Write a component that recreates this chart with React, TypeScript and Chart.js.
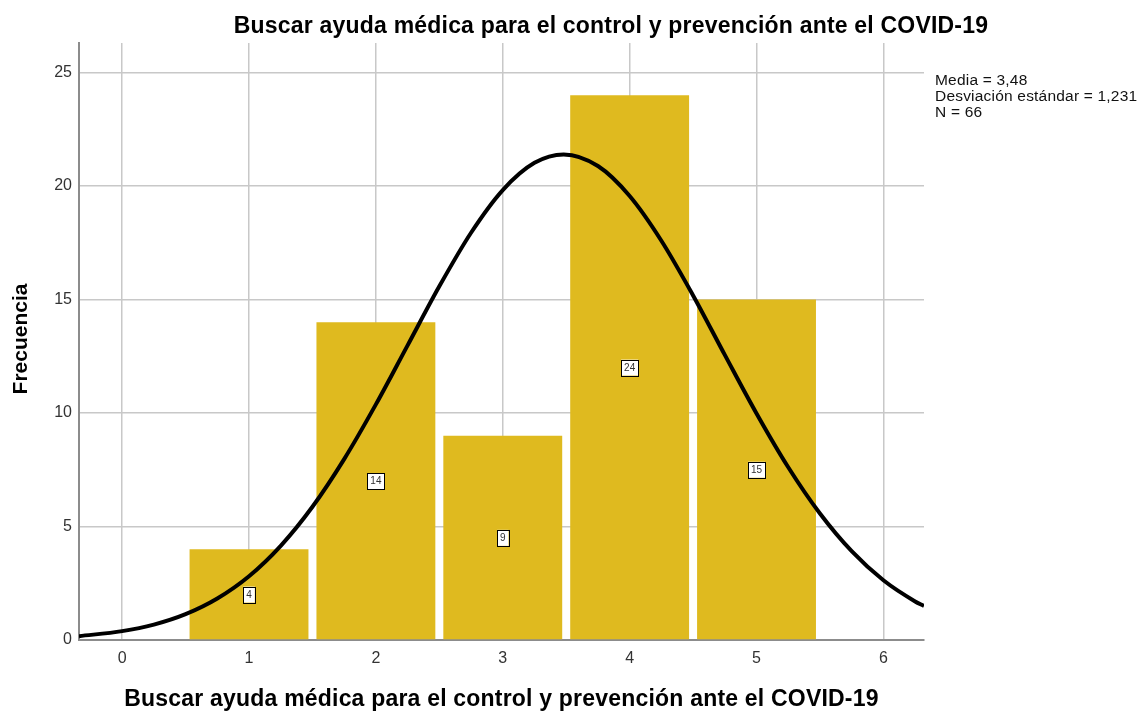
import React, { useEffect, useRef } from "react";
import { Chart, registerables } from "chart.js";

Chart.register(...registerables);

const chartTitle = "Buscar ayuda médica para el control y prevención ante el COVID-19";
const xAxisTitle = "Buscar ayuda médica para el control y prevención ante el COVID-19";
const yAxisTitle = "Frecuencia";
const statsLines = ["Media = 3,48", "Desviación estándar = 1,231", "N = 66"];

const categories = [1, 2, 3, 4, 5];
const frequencies = [4, 14, 9, 24, 15];

const xTicks = [0, 1, 2, 3, 4, 5, 6];
const yTicks = [0, 5, 10, 15, 20, 25];

// normal curve
const curveX = [-0.34, 0, 0.25, 0.5, 0.75, 1, 1.25, 1.5, 1.75, 2, 2.25, 2.5, 2.75, 3, 3.25, 3.48, 3.75, 4, 4.25, 4.5, 4.75, 5, 5.25, 5.5, 5.75, 6, 6.25, 6.32];
const curveY = [0.17, 0.39, 0.68, 1.14, 1.83, 2.81, 4.15, 5.87, 7.97, 10.38, 12.98, 15.58, 17.94, 19.82, 21.02, 21.39, 20.88, 19.56, 17.59, 15.18, 12.56, 9.98, 7.61, 5.57, 3.91, 2.63, 1.7, 1.5];

const FONT = "'Liberation Sans', Arial, sans-serif";

const textPlugin = {
  id: "textPlugin",
  afterDatasetsDraw(chart: any) {
    const ctx = chart.ctx;
    const meta = chart.getDatasetMeta(0);
    const yScale = chart.scales.y;
    ctx.save();
    ctx.font = `10px ${FONT}`;
    ctx.textAlign = "center";
    ctx.textBaseline = "middle";
    meta.data.forEach((el: any, i: number) => {
      const v = frequencies[i];
      const cx = el.x;
      const cy = yScale.getPixelForValue(v / 2);
      const label = String(v);
      const w = ctx.measureText(label).width + 6;
      const h = 16;
      ctx.fillStyle = "#ffffff";
      ctx.fillRect(cx - w / 2, cy - h / 2, w, h);
      ctx.strokeStyle = "#000000";
      ctx.lineWidth = 1;
      ctx.strokeRect(Math.round(cx - w / 2) + 0.5, Math.round(cy - h / 2) + 0.5, Math.round(w), h);
      ctx.fillStyle = "#333333";
      ctx.fillText(label, cx, cy + 0.5);
    });
    ctx.restore();
  },
  afterDraw(chart: any) {
    const ctx = chart.ctx;
    const area = chart.chartArea;
    ctx.save();
    ctx.fillStyle = "#000000";
    ctx.textAlign = "center";
    ctx.textBaseline = "middle";
    ctx.font = `bold 23px ${FONT}`;
    (ctx as any).letterSpacing = "0.2px";
    ctx.fillText(chartTitle, 611, 27);
    ctx.fillText(xAxisTitle, (area.left + area.right) / 2, 700);
    (ctx as any).letterSpacing = "0px";
    ctx.save();
    ctx.translate(21, 339);
    ctx.rotate(-Math.PI / 2);
    ctx.font = `bold 21px ${FONT}`;
    ctx.fillText(yAxisTitle, 0, 0);
    ctx.restore();
    ctx.font = `15.5px ${FONT}`;
    (ctx as any).letterSpacing = "0.2px";
    ctx.textAlign = "left";
    ctx.fillStyle = "#111111";
    statsLines.forEach((s, i) => {
      ctx.fillText(s, 935, 81 + i * 16);
    });
    ctx.restore();
  },
};

export default function App() {
  const ref = useRef<HTMLCanvasElement | null>(null);
  useEffect(() => {
    document.body.style.margin = "0";
    const canvas = ref.current!;
    const chart = new Chart(canvas, {
      data: {
        datasets: [
          {
            type: "bar",
            data: categories.map((c, i) => ({ x: c, y: frequencies[i] })),
            backgroundColor: "#dfba1f",
            borderWidth: 0,
            barPercentage: 1,
            categoryPercentage: 0.937,
            order: 1,
          } as any,
          {
            type: "line",
            data: curveX.map((x, i) => ({ x, y: curveY[i] })),
            borderColor: "#000000",
            borderWidth: 4,
            pointRadius: 0,
            fill: false,
            cubicInterpolationMode: "monotone",
            order: 0,
          } as any,
        ],
      },
      options: {
        animation: false,
        responsive: false,
        maintainAspectRatio: false,
        layout: { padding: { left: 0, right: 216, top: 43, bottom: 0 } },
        plugins: { legend: { display: false }, tooltip: { enabled: false }, title: { display: false } },
        scales: {
          x: {
            type: "linear",
            min: -0.34,
            max: 6.32,
            offset: false,
            afterBuildTicks: (scale: any) => {
              scale.ticks = xTicks.map((v) => ({ value: v }));
            },
            afterFit: (scale: any) => {
              scale.height = 73;
            },
            ticks: { font: { family: FONT, size: 16 }, color: "#333333", padding: 9 },
            grid: { color: "#c8c8c8", lineWidth: 1.5, drawTicks: false, offset: false },
            border: { color: "#8c8c8c", width: 2 },
          },
          y: {
            type: "linear",
            min: 0,
            max: 26.3,
            afterBuildTicks: (scale: any) => {
              scale.ticks = yTicks.map((v) => ({ value: v }));
            },
            afterFit: (scale: any) => {
              scale.width = 79;
            },
            ticks: { font: { family: FONT, size: 16 }, color: "#333333", padding: 7 },
            grid: { color: "#c8c8c8", lineWidth: 1.5, drawTicks: false },
            border: { color: "#8c8c8c", width: 2 },
          },
        },
      } as any,
      plugins: [textPlugin],
    });
    return () => chart.destroy();
  }, []);
  return (
    <div style={{ position: "absolute", left: 0, top: 0, width: 1140, height: 713, background: "#fff" }}>
      <canvas ref={ref} width={1140} height={713} style={{ width: 1140, height: 713 }} />
    </div>
  );
}
